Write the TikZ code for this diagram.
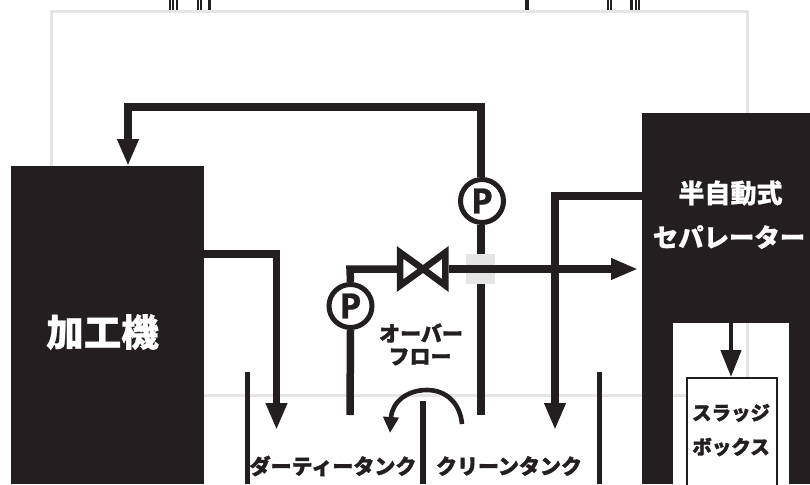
\documentclass[tikz,border=0pt]{standalone}
\usepackage{fontspec}
\usetikzlibrary{arrows.meta}
\newfontfamily\jpheavy[FakeBold=1.6]{Noto Sans CJK JP Black}
\newfontfamily\jpbold[FakeBold=0.8]{Noto Sans CJK JP Black}
\newfontfamily\pfont{Open Sans}[BoldFont={Open Sans Bold},BoldFeatures={FakeBold=0.8}]
\definecolor{ink}{HTML}{231F20}
\definecolor{frameg}{HTML}{E5E5E5}
\tikzset{
  pipe/.style={draw=ink,line width=7.5pt},
  flow/.style={pipe,-{Triangle[width=20pt,length=27pt]}},
  solid box/.style={fill=ink,draw=none,inner sep=0pt,anchor=north west},
  pump/.style={circle,draw=ink,fill=white,line width=5pt,minimum size=43pt,inner sep=0pt,font=\pfont\bfseries\fontsize{35}{35}\selectfont,text=ink},
  wall/.style={draw=ink,line width=5pt},
  lab/.style={inner sep=0pt,text=ink,font=\jpheavy\fontsize{21}{21}\selectfont},
  whitelab/.style={inner sep=0pt,text=white,font=\jpbold\fontsize{26}{26}\selectfont}
}
\begin{document}
\begin{tikzpicture}[x=1pt,y=-1pt]
\useasboundingbox (0,0) rectangle (810,484);
\clip (0,0) rectangle (810,484);
% background frame
\draw[frameg,line width=3pt] (51,12) rectangle (747,395);
% top ticks
\foreach \x/\w in {170/2,173/2,177/2,198/2,201/2,209.5/3,527/3.5,608/2,611/2,631.5/2.5,636/2,639/2}
  \draw[ink,line width=\w pt] (\x,0) -- (\x,10.5);
% equipment
\node[solid box,minimum width=193pt,minimum height=318pt] (machine) at (11,166) {};
\node[solid box,minimum width=168pt,minimum height=209.5pt] (separator) at (642,113) {};
\node[solid box,minimum width=31pt,minimum height=162pt] (legL) at (642,322) {};
\node[solid box,minimum width=21pt,minimum height=162pt] (legR) at (789,322) {};
\node[draw=ink,line width=2.2pt,inner sep=0pt,anchor=north west,minimum width=90pt,minimum height=120pt,fill=white] (sludge) at (686,377) {};
% named coordinates
\coordinate (cleanfoot) at (481,415);
\coordinate (dirtyfoot) at (350,415);
\coordinate (cornerA) at (481,107);
\coordinate (cornerB) at (128,107);
\coordinate (machinein) at (128,166);
\coordinate (machineout) at (204,254);
\coordinate (cornerC) at (276.5,254);
\coordinate (dirtytip) at (276.5,430);
\coordinate (sepout) at (642,196);
\coordinate (cornerD) at (555,196);
\coordinate (cleantip) at (555,430);
\coordinate (cornerE) at (350,269);
\coordinate (sepin) at (638,269);
\coordinate (sepbottom) at (731,322);
% pumps and valve
\node[pump] (pumpA) at (482,201) {P};
\node[pump] (pumpB) at (350.5,306) {P};
\node[minimum width=51pt,minimum height=44pt,inner sep=0pt] (valve) at (423,269) {};
% clean-side pipe
\draw[pipe] (cleanfoot) -- (cleanfoot |- pumpA.south);
\draw[pipe] (pumpA.north -| cornerA) -- ([yshift=-3.75pt]cornerA) ;
\draw[flow] ([xshift=3.75pt]cornerA) -- (cornerB) -- (machinein);
\node[fill=frameg,inner sep=0pt,minimum width=29pt,minimum height=30pt] (crossing) at (480.5,269) {};
% machine to dirty tank
\draw[flow] (machineout) -- (cornerC) -- (dirtytip);
% separator to clean tank
\draw[flow] (sepout) -- (cornerD) -- (cleantip);
% pump B through valve to separator
\draw[pipe] (dirtyfoot) -- (pumpB.south);
\draw[pipe] (pumpB.north) -- (cornerE) -- (valve.west);
\draw[flow] (valve.east) -- (sepin);
\draw[ink,line width=6.5pt,miter limit=10,fill=white] (400.2,252.5) -- (423,269) -- (400.2,285.5) -- cycle;
\draw[ink,line width=6.5pt,miter limit=10,fill=white] (445.3,252.5) -- (423,269) -- (445.3,285.5) -- cycle;
% separator to sludge box
\draw[draw=ink,line width=4.5pt,-{Triangle[width=20pt,length=27pt]}] (sepbottom) -- (sepbottom |- sludge.north);
% tank walls
\coordinate (wallAtop) at (247,372);
\coordinate (wallAbot) at (247,484);
\coordinate (wallBtop) at (423,401);
\coordinate (wallBbot) at (423,484);
\coordinate (wallCtop) at (599,372);
\coordinate (wallCbot) at (599,484);
\draw[wall] (wallAtop) -- (wallAbot);
\draw[wall,line width=5.5pt] (wallBtop) -- (wallBbot);
\draw[wall] (wallCtop) -- (wallCbot);
% overflow
\coordinate (ovstart) at (462,424);
\draw[draw=ink,line width=4.6pt,-{Triangle[width=15pt,length=16pt]}] (ovstart) .. controls (460,402) and (445,390) .. (427,390) .. controls (407,390) and (392,402) .. (390,433);
% labels
\node[whitelab,font=\jpbold\fontsize{37.5}{37.5}\selectfont] (lblmachine) at (102.5,332) {加工機};
\node[whitelab] (lblsepA) at (730.5,193) {半自動式};
\node[whitelab,font=\jpbold\fontsize{25.4}{25.4}\selectfont] (lblsepB) at (729,237) {セパレーター};
\node[lab] (lblovA) at (421,333) {オーバー};
\node[lab] (lblovB) at (420,357) {フロー};
\node[lab] (lbldirty) at (333,466) {ダーティータンク};
\node[lab] (lblclean) at (509,466) {クリーンタンク};
\node[lab,font=\jpheavy\fontsize{19.5}{19.5}\selectfont] (lblslA) at (731,413) {スラッジ};
\node[lab,font=\jpheavy\fontsize{19.5}{19.5}\selectfont] (lblslB) at (731,447) {ボックス};
\end{tikzpicture}
\end{document}
